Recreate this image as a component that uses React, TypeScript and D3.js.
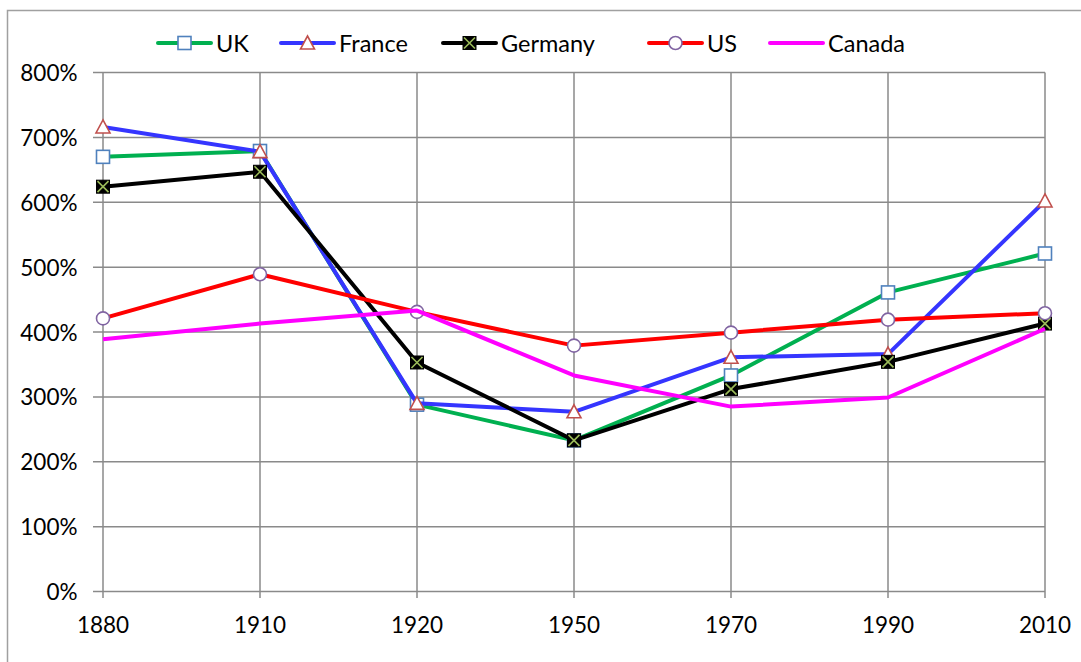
import React from "react";
import * as d3 from "d3";

const categories = ["1880", "1910", "1920", "1950", "1970", "1990", "2010"];
const ukValues = [670, 679, 288, 233, 333, 461, 521];
const franceValues = [716, 678, 290, 277, 361, 366, 602];
const germanyValues = [624, 647, 353, 233, 312, 354, 413];
const usValues = [421, 489, 431, 379, 399, 419, 429];
const canadaValues = [389, 413, 433, 333, 285, 299, 405];
const yTicks = [0, 100, 200, 300, 400, 500, 600, 700, 800];

type Marker = "square" | "triangle" | "xsquare" | "circle" | "none";
const series: { name: string; values: number[]; color: string; marker: Marker }[] = [
  { name: "UK", values: ukValues, color: "#00b050", marker: "square" },
  { name: "France", values: franceValues, color: "#3535ff", marker: "triangle" },
  { name: "Germany", values: germanyValues, color: "#000000", marker: "xsquare" },
  { name: "US", values: usValues, color: "#ff0000", marker: "circle" },
  { name: "Canada", values: canadaValues, color: "#ff00ff", marker: "none" },
];
const legendX = [158, 281, 443, 649, 770];

const FONT = "Lato, 'Open Sans', sans-serif";
const GRID = "#8a8a8a";

function MarkerShape({ kind, x, y }: { kind: Marker; x: number; y: number }) {
  const s = 6.5;
  if (kind === "square")
    return <rect x={x - s} y={y - s} width={2 * s} height={2 * s} fill="#fff" stroke="#4f81bd" strokeWidth={1.6} />;
  if (kind === "triangle")
    return (
      <path
        d={`M${x},${y - s - 0.5} L${x + s + 0.5},${y + s - 0.5} L${x - s - 0.5},${y + s - 0.5} Z`}
        fill="#fff"
        stroke="#c0504d"
        strokeWidth={1.6}
      />
    );
  if (kind === "xsquare")
    return (
      <g>
        <rect x={x - s} y={y - s} width={2 * s} height={2 * s} fill="#000" stroke="#000" strokeWidth={1} />
        <path d={`M${x - s + 1},${y - s + 1} L${x + s - 1},${y + s - 1} M${x + s - 1},${y - s + 1} L${x - s + 1},${y + s - 1}`} stroke="#9bbb59" strokeWidth={1.6} />
      </g>
    );
  if (kind === "circle") return <circle cx={x} cy={y} r={s} fill="#fff" stroke="#8064a2" strokeWidth={1.6} />;
  return null;
}

export default function App() {
  const x = d3.scalePoint<string>().domain(categories).range([103, 1045]);
  const y = d3.scaleLinear().domain([0, 800]).range([591.5, 72.5]);
  const line = d3
    .line<number>()
    .x((_, i) => x(categories[i]) as number)
    .y((d) => y(d));

  return (
    <svg width={1081} height={662} style={{ position: "absolute", left: 0, top: 0, display: "block" }}>
      <rect x={0} y={0} width={1081} height={662} fill="#fff" />
      <rect x={7.5} y={10.5} width={1100} height={700} fill="#fff" stroke="#a0a0a0" strokeWidth={1.5} />
      {yTicks.map((t) => (
        <line key={"h" + t} x1={93} x2={1045} y1={y(t)} y2={y(t)} stroke={GRID} strokeWidth={1.5} />
      ))}
      {categories.map((c) => (
        <line key={"v" + c} x1={x(c)} x2={x(c)} y1={y(800)} y2={598} stroke={GRID} strokeWidth={1.5} />
      ))}
      {yTicks.map((t) => (
        <text key={"yl" + t} x={77.5} y={y(t) + 8.5} textAnchor="end" fontFamily={FONT} fontSize={22.5} fill="#000">
          {t + "%"}
        </text>
      ))}
      {categories.map((c) => (
        <text key={"xl" + c} x={x(c)} y={633} textAnchor="middle" fontFamily={FONT} fontSize={22.5} fill="#000">
          {c}
        </text>
      ))}
      {series.map((s) => (
        <g key={s.name}>
          <path d={line(s.values) || ""} fill="none" stroke={s.color} strokeWidth={4} strokeLinejoin="round" />
          {s.values.map((v, i) => (
            <MarkerShape key={i} kind={s.marker} x={x(categories[i]) as number} y={y(v)} />
          ))}
        </g>
      ))}
      {series.map((s, i) => {
        const lx = legendX[i];
        const ly = 43;
        return (
          <g key={"lg" + s.name}>
            <line x1={lx} x2={lx + 53} y1={ly} y2={ly} stroke={s.color} strokeWidth={4} strokeLinecap="round" />
            <MarkerShape kind={s.marker} x={lx + 26.5} y={ly} />
            <text x={lx + 58} y={ly + 8.5} fontFamily={FONT} fontSize={23.5} fill="#000">
              {s.name}
            </text>
          </g>
        );
      })}
    </svg>
  );
}
